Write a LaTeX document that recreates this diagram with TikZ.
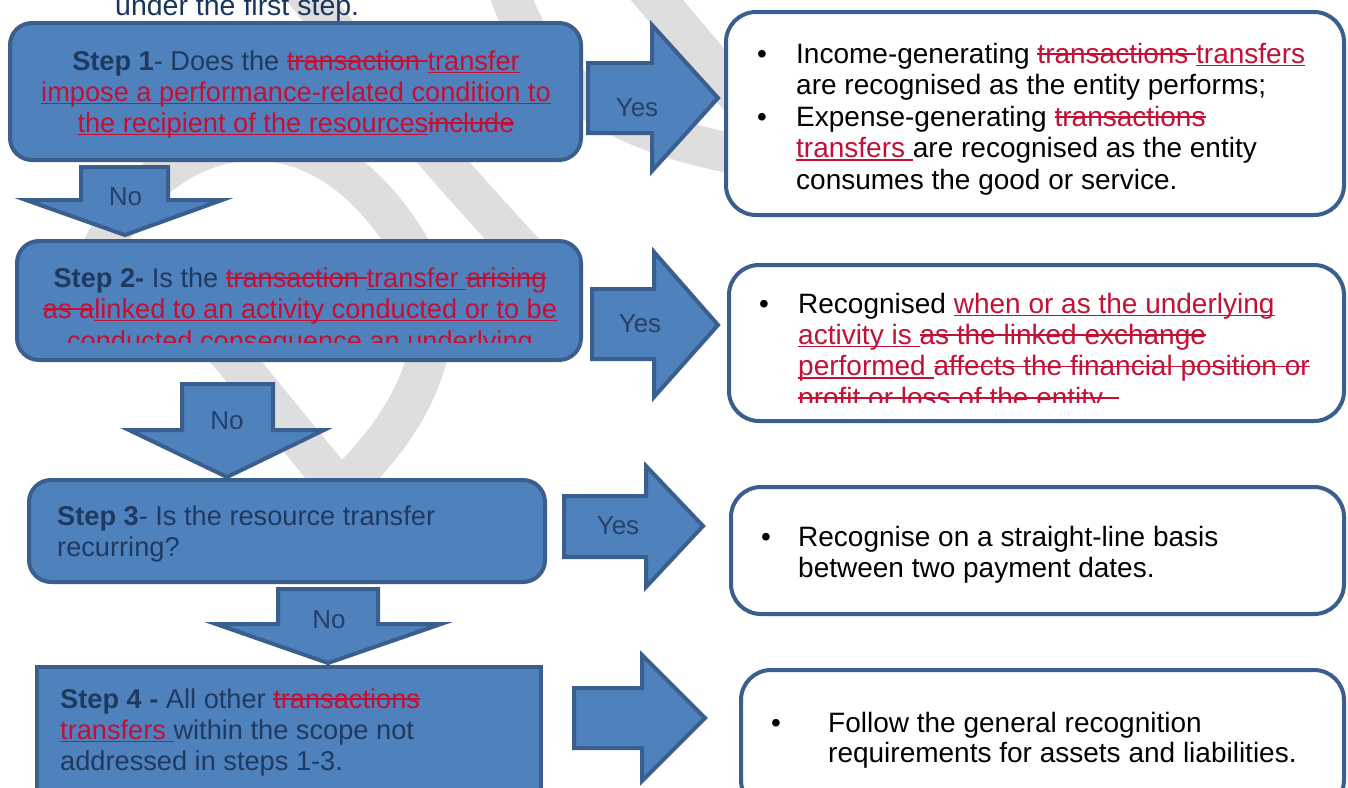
\documentclass[tikz,border=0pt]{standalone}
\usepackage{fontspec}
\setmainfont{Liberation Sans}
\definecolor{bluef}{HTML}{4F81BD}
\definecolor{bdr}{HTML}{3A5F8E}
\definecolor{navy}{HTML}{1F3A60}
\definecolor{topnavy}{HTML}{17365D}
\definecolor{yn}{HTML}{25416B}
\definecolor{tcred}{RGB}{196,16,52}
\definecolor{wmgrey}{HTML}{DEDEDE}
\newsavebox{\markbox}
\newcommand{\ULx}[1]{\sbox{\markbox}{#1}\rlap{\rule[-3.4pt]{\wd\markbox}{1.7pt}}\usebox{\markbox}}
\newcommand{\SOx}[1]{\sbox{\markbox}{#1}\rlap{\rule[0.55ex]{\wd\markbox}{1.7pt}}\usebox{\markbox}}
\newcommand{\insx}[1]{\textcolor{tcred}{\ULx{#1}}}
\newcommand{\delx}[1]{\textcolor{tcred}{\SOx{#1}}}
\newcommand{\stepfont}{\fontsize{27.2}{31}\selectfont}
\newcommand{\resfont}{\fontsize{28}{32}\selectfont}
\newcommand{\ynfont}{\fontsize{26}{30}\selectfont}
\tikzset{
  stepbox/.style={draw=bdr, fill=bluef, line width=4pt, rounded corners=22pt, inner sep=0pt},
  sqbox/.style={draw=bdr, fill=bluef, line width=4pt, inner sep=0pt},
  resbox/.style={draw=bdr, fill=white, line width=4pt, rounded corners=30pt, inner sep=0pt},
  blockarrow/.style={draw=bdr, fill=bluef, line width=4pt, line join=miter},
  wm/.style={draw=wmgrey, line width=40pt},
  restxt/.style={inner sep=0pt, anchor=base west, text=black, font=\resfont},
  steptxt/.style={inner sep=0pt, font=\stepfont, text=navy},
  yntxt/.style={inner sep=0pt, font=\ynfont, text=yn, anchor=center}
}
\begin{document}
\begin{tikzpicture}[x=1pt, y=-1pt]
\clip (0,0) rectangle (1348,787);
\fill[white] (0,0) rectangle (1348,787);

% watermark
\draw[wm] (95,265) .. controls (150,125) and (320,75) .. (420,265)
          .. controls (445,320) and (435,400) .. (340,490);
\draw[wm] (210,330) -- (345,495);
\draw[wm] (296,-20) .. controls (380,90) and (450,175) .. (560,290);
\draw[wm] (505,-20) .. controls (530,60) and (580,125) .. (740,155);
\draw[wm] (640,-20) -- (750,110);

% top text
\node[inner sep=0pt, anchor=base west, font=\fontsize{28.5}{32}\selectfont, text=topnavy] (toptext) at (115,15) {under the first step.};

% step boxes
\node[stepbox, minimum width=571pt, minimum height=137pt] (step1) at (295.5,91.5) {};
\node[stepbox, minimum width=564pt, minimum height=119pt] (step2) at (299,300.5) {};
\node[stepbox, minimum width=516pt, minimum height=102pt] (step3) at (287,531) {};
\node[sqbox, minimum width=504pt, minimum height=140pt] (step4) at (289,737) {};

% result boxes
\node[resbox, minimum width=618pt, minimum height=203pt] (res1) at (1035,113.5) {};
\node[resbox, minimum width=615pt, minimum height=156pt] (res2) at (1036.5,343) {};
\node[resbox, minimum width=613pt, minimum height=127pt] (res3) at (1037.5,550.5) {};
\node[resbox, minimum width=603pt, minimum height=140pt] (res4) at (1042.5,740) {};

% Yes arrows
\draw[blockarrow] (588,63) -- (652,63) -- (652,25) -- (718,98) -- (652,171) -- (652,133) -- (588,133) -- cycle;
\draw[blockarrow] (592,289) -- (654,289) -- (654,252) -- (718,325) -- (654,397) -- (654,359) -- (592,359) -- cycle;
\draw[blockarrow] (564,496) -- (646,496) -- (646,466) -- (703,526) -- (646,587) -- (646,557) -- (564,557) -- cycle;
\draw[blockarrow] (574,688) -- (642,688) -- (642,655) -- (705,718) -- (642,781) -- (642,748) -- (574,748) -- cycle;
% No arrows
\draw[blockarrow] (81,167) -- (168,167) -- (168,200) -- (222,200) -- (125,235) -- (26,200) -- (81,200) -- cycle;
\draw[blockarrow] (182,384) -- (273,384) -- (273,430) -- (324,430) -- (227,477) -- (129,430) -- (182,430) -- cycle;
\draw[blockarrow] (278,589) -- (378,589) -- (378,624) -- (441,624) -- (328,663) -- (216,624) -- (278,624) -- cycle;

\node[yntxt] (yes1) at (637,108) {Yes};
\node[yntxt] (yes2) at (640,324) {Yes};
\node[yntxt] (yes3) at (618,526) {Yes};
\node[yntxt] (no1) at (125.5,197) {No};
\node[yntxt] (no2) at (227,421) {No};
\node[yntxt] (no3) at (329,620) {No};

% Step 1 text
\node[steptxt, anchor=base] (s1a) at (296,70) {\textbf{Step 1}- Does the \delx{transaction }\insx{transfer}};
\node[steptxt, anchor=base] (s1b) at (296,101) {\insx{impose a performance-related condition to}};
\node[steptxt, anchor=base] (s1c) at (296,132) {\insx{the recipient of the resources}\delx{include}};

% Step 2 text
\node[steptxt, anchor=base] (s2a) at (300,287) {\textbf{Step 2-} Is the \delx{transaction }\insx{transfer }\delx{arising}};
\node[steptxt, anchor=base] (s2b) at (300,318) {\delx{as a}\insx{linked to an activity conducted or to be}};
\begin{scope}
\clip (20,320) rectangle (578,342);
\node[steptxt, anchor=base, text=tcred] (s2c) at (300,350) {conducted consequence an underlying};
\end{scope}

% Step 3 text
\node[steptxt, anchor=base west] (s3a) at (57,525) {\textbf{Step 3}- Is the resource transfer};
\node[steptxt, anchor=base west] (s3b) at (57,556) {recurring?};

% Step 4 text
\node[steptxt, anchor=base west] (s4a) at (60,708) {\textbf{Step 4 -} All other \delx{transactions}};
\node[steptxt, anchor=base west] (s4b) at (60,739) {\insx{transfers }within the scope not};
\node[steptxt, anchor=base west] (s4c) at (60,770) {addressed in steps 1-3.};

% Result 1
\node[restxt] (b1a) at (757,63) {•};
\node[restxt] (r1a) at (796,63) {Income-generating \delx{transactions }\insx{transfers}};
\node[restxt] (r1b) at (796,94.5) {are recognised as the entity performs;};
\node[restxt] (b1b) at (757,126) {•};
\node[restxt] (r1c) at (796,126) {Expense-generating \delx{transactions}};
\node[restxt] (r1d) at (796,157.5) {\insx{transfers }are recognised as the entity};
\node[restxt] (r1e) at (796,189) {consumes the good or service.};

% Result 2
\node[restxt] (b2a) at (759,313) {•};
\node[restxt] (r2a) at (798,313) {Recognised \insx{when or as the underlying}};
\node[restxt] (r2b) at (798,344) {\insx{activity is }\delx{as the linked exchange}};
\node[restxt] (r2c) at (798,375.5) {\insx{performed }\delx{affects the financial position or}};
\begin{scope}
\clip (790,380) rectangle (1340,402);
\node[restxt] (r2d) at (798,407) {\delx{profit or loss of the entity. }};
\end{scope}

% Result 3
\node[restxt] (b3a) at (761,546) {•};
\node[restxt] (r3a) at (798,546) {Recognise on a straight-line basis};
\node[restxt] (r3b) at (798,577) {between two payment dates.};

% Result 4
\node[restxt] (b4a) at (771,732) {•};
\node[restxt] (r4a) at (828,732) {Follow the general recognition};
\node[restxt] (r4b) at (828,762) {requirements for assets and liabilities.};
\end{tikzpicture}
\end{document}
